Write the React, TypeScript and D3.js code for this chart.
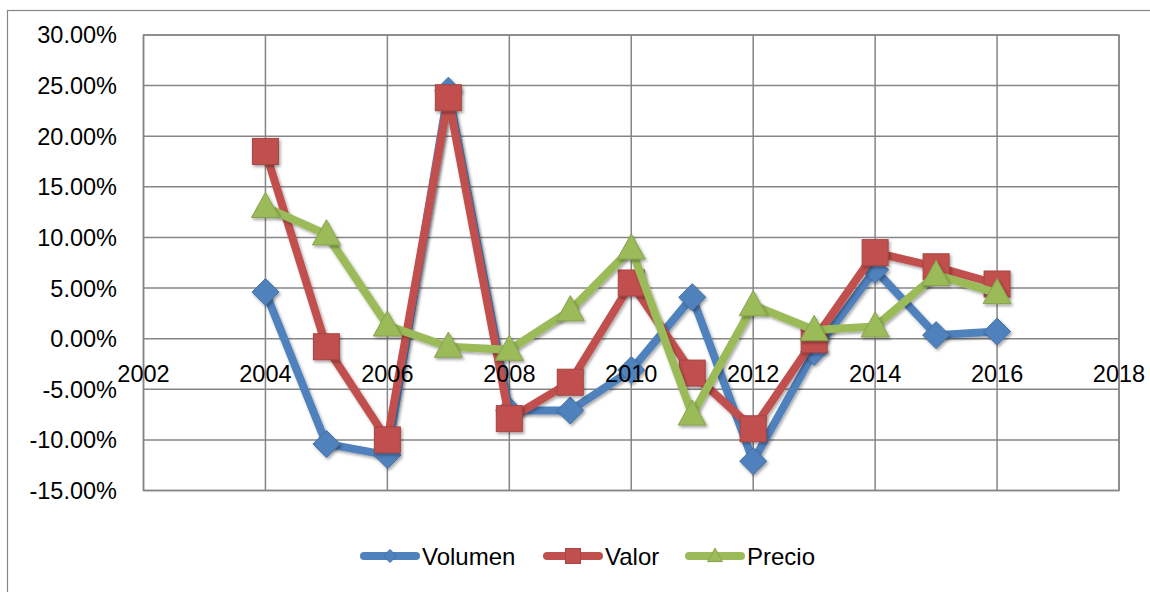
import React from "react";
import * as d3 from "d3";

const years = [2004, 2005, 2006, 2007, 2008, 2009, 2010, 2011, 2012, 2013, 2014, 2015, 2016];
const volumen = [4.6, -10.4, -11.5, 24.5, -7.1, -7.1, -3.1, 4.1, -12.1, -1.3, 6.8, 0.35, 0.7];
const valor = [18.5, -0.8, -10.0, 23.8, -7.9, -4.3, 5.5, -3.4, -8.9, -0.1, 8.5, 7.1, 5.4];
const precio = [13.0, 10.3, 1.3, -0.8, -1.1, 2.8, 8.9, -7.5, 3.3, 0.85, 1.2, 6.3, 4.5];
const xTicks = [2002, 2004, 2006, 2008, 2010, 2012, 2014, 2016, 2018];
const yTicks = [30, 25, 20, 15, 10, 5, 0, -5, -10, -15];

const seriesNames = ["Volumen", "Valor", "Precio"];
const seriesData = [volumen, valor, precio];
const colors = ["#4F81BD", "#C0504D", "#9BBB59"];
const shapes = ["diamond", "square", "triangle"];

const FONT = "'Liberation Sans', Arial, sans-serif";

function Marker({ shape, x, y, size, color }: { shape: string; x: number; y: number; size: number; color: string }) {
  const h = size / 2;
  const st = d3.color(color)!.darker(0.4).toString();
  if (shape === "square") {
    return <rect x={x - h} y={y - h} width={size} height={size} fill={color} stroke={st} strokeWidth={1} />;
  }
  if (shape === "diamond") {
    return <path d={`M${x},${y - h}L${x + h},${y}L${x},${y + h}L${x - h},${y}Z`} fill={color} stroke={st} strokeWidth={1} />;
  }
  return <path d={`M${x},${y - h * 1.05}L${x + h},${y + h * 0.75}L${x - h},${y + h * 0.75}Z`} fill={color} stroke={st} strokeWidth={1} />;
}

export default function App() {
  const left = 143.5, right = 1119, top = 35, bottom = 490.5;
  const x = d3.scaleLinear().domain([2002, 2018]).range([left, right]);
  const y = d3.scaleLinear().domain([-15, 30]).range([bottom, top]);
  const line = d3.line<number>().x((_, i) => x(years[i])).y((d) => y(d));
  const sizes = [27, 26, 28];
  const legendX = [360, 543, 685];

  return (
    <svg width={1150} height={592} style={{ position: "absolute", left: 0, top: 0, background: "#fff" }}>
      <defs>
        <filter id="sh" x="-30%" y="-30%" width="160%" height="160%">
          <feDropShadow dx="1.5" dy="2" stdDeviation="1.5" floodColor="#000" floodOpacity="0.35" />
        </filter>
      </defs>
      <rect x={7.5} y={10.5} width={1200} height={700} fill="#fff" stroke="#868686" strokeWidth={1.2} />
      {yTicks.map((t) => (
        <line key={"h" + t} x1={left} x2={right} y1={y(t)} y2={y(t)} stroke="#868686" strokeWidth={1.5} />
      ))}
      {xTicks.map((t) => (
        <line key={"v" + t} x1={x(t)} x2={x(t)} y1={top} y2={bottom} stroke="#868686" strokeWidth={1.5} />
      ))}
      <rect x={left} y={top} width={right - left} height={bottom - top} fill="none" stroke="#868686" strokeWidth={1.5} />
      {yTicks.map((t) => (
        <text key={"yl" + t} x={117} y={y(t)} dy="0.36em" textAnchor="end" fontFamily={FONT} fontSize={23.5} fill="#000">
          {t.toFixed(2) + "%"}
        </text>
      ))}
      {seriesData.map((data, si) => (
        <g key={"s" + si}>
          <path d={line(data) || ""} fill="none" stroke={colors[si]} strokeWidth={8} strokeLinejoin="round" strokeLinecap="round" filter="url(#sh)" />
          {data.map((v, i) => (
            <g key={i} filter="url(#sh)">
              <Marker shape={shapes[si]} x={x(years[i])} y={y(v)} size={sizes[si]} color={colors[si]} />
            </g>
          ))}
        </g>
      ))}
      {xTicks.map((t) => (
        <text key={"xl" + t} x={x(t)} y={y(0) + 35} dy="0.36em" textAnchor="middle" fontFamily={FONT} fontSize={23.5} fill="#000">
          {t}
        </text>
      ))}
      {seriesNames.map((name, si) => (
        <g key={"lg" + si}>
          <line x1={legendX[si] + 4} x2={legendX[si] + 56} y1={556} y2={556} stroke={colors[si]} strokeWidth={8} strokeLinecap="round" />
          <Marker shape={shapes[si]} x={legendX[si] + 30} y={556} size={si === 0 ? 13 : 15} color={colors[si]} />
          <text x={legendX[si] + 62} y={556} dy="0.36em" fontFamily={FONT} fontSize={24} fill="#000">
            {name}
          </text>
        </g>
      ))}
    </svg>
  );
}
